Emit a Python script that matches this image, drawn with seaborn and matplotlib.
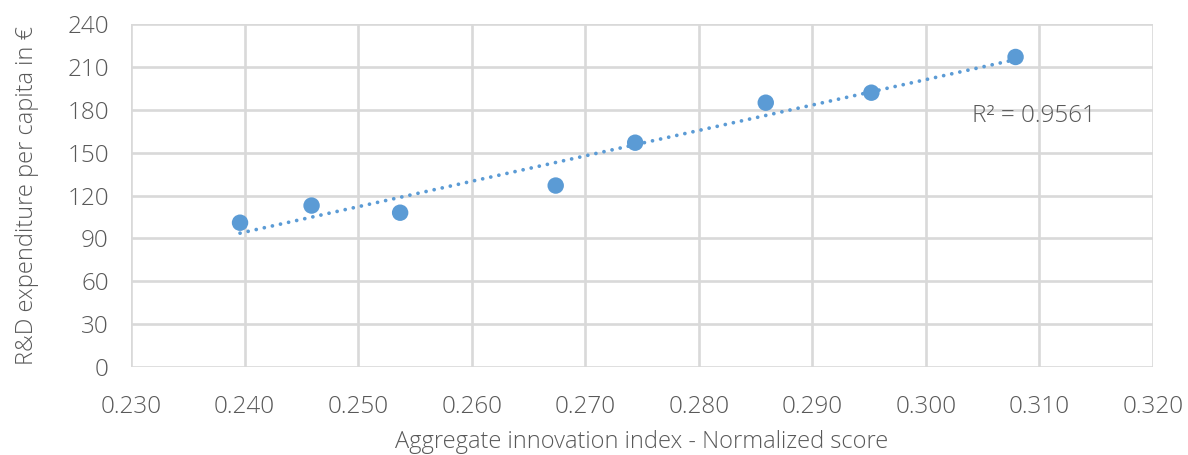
import numpy as np
import pandas as pd
import matplotlib
matplotlib.use("Agg")
import matplotlib.pyplot as plt
import seaborn as sns

# -------------------------- data --------------------------
innovation_score = [0.2396, 0.2459, 0.2537, 0.2674, 0.2744, 0.2859, 0.2952, 0.3079]
rd_per_capita = [101, 113, 108, 127, 157, 185, 192, 217]
r2_label = "R² = 0.9561"

x_ticks = [0.23, 0.24, 0.25, 0.26, 0.27, 0.28, 0.29, 0.30, 0.31, 0.32]
y_ticks = [0, 30, 60, 90, 120, 150, 180, 210, 240]

df = pd.DataFrame({"score": innovation_score, "rd": rd_per_capita})

# -------------------------- style --------------------------
sns.set_style("white")
plt.rcParams['font.family'] = ['Open Sans', 'DejaVu Sans']
plt.rcParams['font.weight'] = 'light'
plt.rcParams['axes.labelweight'] = 'light'
blue = "#5B9BD5"
grey_txt = "#595959"
grid_col = "#D9D9D9"

fig = plt.figure(figsize=(11.88, 4.55), dpi=100)
ax = fig.add_axes([0.1103, 0.1934, 0.8602, 0.7536])

# trendline (linear) under the points
sns.regplot(data=df, x="score", y="rd", ax=ax, scatter=False, ci=None,
            line_kws=dict(color=blue, lw=2.7, linestyle=(0, (0.01, 2.2)),
                          dash_capstyle="round", zorder=2))
sns.scatterplot(data=df, x="score", y="rd", ax=ax, color=blue, s=140,
                edgecolor="none", zorder=3)

ax.text(0.3041, 176, r2_label, fontsize=17.5, color=grey_txt, va="center", ha="left")

ax.set_xlim(0.23, 0.32)
ax.set_ylim(0, 240)
ax.set_xticks(x_ticks)
ax.set_yticks(y_ticks)
ax.set_xticklabels([f"{v:.3f}" for v in x_ticks])
ax.set_yticklabels([str(v) for v in y_ticks])
ax.tick_params(axis="both", length=0, labelsize=17.5, labelcolor=grey_txt)
ax.tick_params(axis="x", pad=20)
ax.tick_params(axis="y", pad=16)

ax.grid(True, color=grid_col, lw=1.9)
ax.set_axisbelow(True)
for s in ax.spines.values():
    s.set_visible(False)

ax.set_xlabel("Aggregate innovation index - Normalized score", fontsize=17,
              color=grey_txt, labelpad=8)
ax.set_ylabel("R&D expenditure per capita in €", fontsize=17,
              color=grey_txt, labelpad=20)

fig.savefig("out.png", dpi=100)
